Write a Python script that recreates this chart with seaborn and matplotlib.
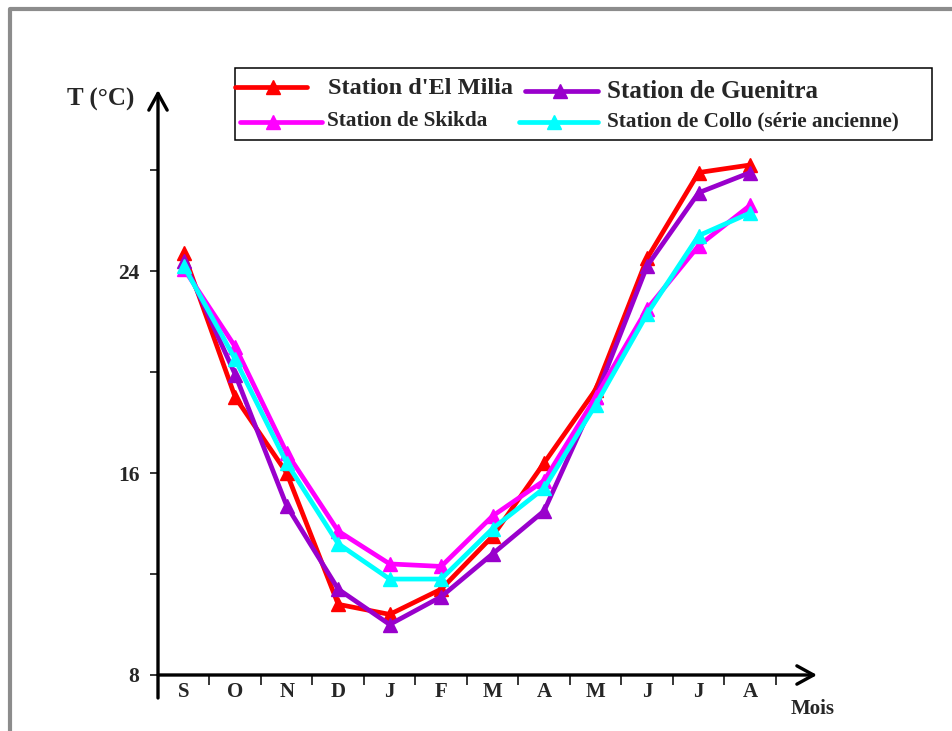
import numpy as np
import pandas as pd
import matplotlib
matplotlib.use('Agg')
import matplotlib.pyplot as plt
import seaborn as sns
from matplotlib.lines import Line2D
from matplotlib.patches import Rectangle

# données (T en °C)
mois = ['S', 'O', 'N', 'D', 'J', 'F', 'M', 'A', 'M', 'J', 'J', 'A']
el_milia = [24.7, 19.0, 16.0, 10.8, 10.4, 11.4, 13.5, 16.4, 19.3, 24.5, 27.9, 28.2]
guenitra = [24.4, 19.9, 14.7, 11.4, 10.0, 11.1, 12.8, 14.5, 19.0, 24.2, 27.1, 27.9]
skikda = [24.1, 21.0, 16.8, 13.7, 12.4, 12.3, 14.3, 15.7, 19.0, 22.5, 25.0, 26.6]
collo = [24.2, 20.5, 16.4, 13.2, 11.8, 11.8, 13.8, 15.4, 18.7, 22.3, 25.4, 26.3]

stations = ["Station d'El Milia", 'Station de Guenitra', 'Station de Skikda',
            'Station de Collo (série ancienne)']
couleurs = ['#FF0000', '#9900CC', '#FF00FF', '#00FFFF']
y_ticks = [8, 12, 16, 20, 24, 28]
y_labels = ['8', '', '16', '', '24', '']

df = pd.DataFrame({'pos': np.tile(np.arange(12), 4),
                   'T': el_milia + guenitra + skikda + collo,
                   'station': np.repeat(stations, 12)})

sns.set_theme(style='white')
plt.rcParams['font.family'] = ['Liberation Serif', 'DejaVu Serif']
plt.rcParams['font.weight'] = 'bold'

fig = plt.figure(figsize=(9.52, 7.31), dpi=100)
W, H = 952, 731
ax = fig.add_axes([158 / W, 56 / H, 659 / W, 585 / H])

sns.lineplot(data=df, x='pos', y='T', hue='station', hue_order=stations,
             palette=dict(zip(stations, couleurs)), marker='^', markersize=10,
             linewidth=3.4, legend=False, ax=ax)
for l in ax.lines:
    l.set_markeredgecolor(l.get_color())
    l.set_markeredgewidth(1)

ax.set_xlim(-0.5, 12.3)
ax.set_ylim(8, 31.17)
ax.set_xlabel('')
ax.set_ylabel('')
for s in ax.spines.values():
    s.set_visible(False)

# graduations
ax.set_xticks(np.arange(12) + 0.5)
ax.set_xticklabels([])
ax.set_xticks(np.arange(12), minor=True)
ax.set_xticklabels(mois, minor=True, fontsize=15, fontweight='bold')
ax.tick_params(axis='x', which='major', direction='out', length=7.5, width=1.1,
               color='black', bottom=True)
ax.tick_params(axis='x', which='minor', length=0, pad=5, bottom=True)
ax.set_yticks(y_ticks)
ax.set_yticklabels(y_labels, fontsize=15.5, fontweight='bold')
ax.tick_params(axis='y', direction='out', length=5.8, width=1.1, color='black',
               pad=7.5, left=True)

# axes fléchés
arrow = dict(arrowstyle='->,head_length=0.6,head_width=0.33', lw=2.4,
             color='black', shrinkA=0, shrinkB=0, mutation_scale=20)
ax.annotate('', xy=(1, 0), xytext=(0, 0), xycoords='axes fraction',
            arrowprops=arrow, annotation_clip=False)
ax.annotate('', xy=(0, 1), xytext=(0, -23 / 585), xycoords='axes fraction',
            arrowprops=arrow, annotation_clip=False)

fig.text(67 / W, 1 - 106 / H, 'T (°C)', fontsize=18, fontweight='bold',
         ha='left', va='baseline')
fig.text(791 / W, 1 - 714 / H, 'Mois', fontsize=15, fontweight='bold',
         ha='left', va='baseline')

# légende
fig.add_artist(Rectangle((235 / W, 1 - 140 / H), 697 / W, 72 / H,
                         transform=fig.transFigure, fill=False,
                         edgecolor='black', lw=1.1))
leg_items = [
    (235, 307, 273, 87, 328, 88, 17.5),
    (525, 598, 560, 91, 607, 92, 18),
    (240, 322, 273, 122, 327, 121, 15.3),
    (519, 598, 554, 122, 607, 121, 15.3),
]
for (x0, x1, xm, yl, xt, yt, fs), nom, c in zip(leg_items, stations, couleurs):
    fig.add_artist(Line2D([x0 / W, x1 / W], [1 - yl / H, 1 - yl / H],
                          transform=fig.transFigure, color=c, lw=3.4))
    fig.add_artist(Line2D([xm / W], [1 - yl / H], transform=fig.transFigure,
                          color=c, marker='^', markersize=10))
    fig.text(xt / W, 1 - yt / H, nom, fontsize=fs, fontweight='bold',
             ha='left', va='center')

# cadre gris
fig.add_artist(Line2D([10 / W, 10 / W, 1], [0, 1 - 9 / H, 1 - 9 / H],
                      transform=fig.transFigure, color='#8c8c8c', lw=3))

fig.savefig('out.png', dpi=100, facecolor='white')
